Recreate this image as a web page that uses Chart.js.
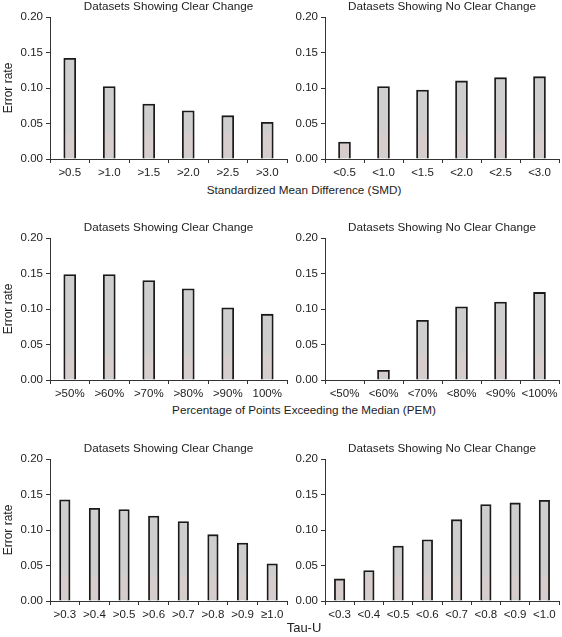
<!DOCTYPE html>
<html>
<head>
<meta charset="utf-8">
<script src="https://cdn.jsdelivr.net/npm/chart.js@4/dist/chart.umd.min.js"></script>
<style>
  html, body { margin: 0; padding: 0; background: #fff; }
  body { width: 562px; height: 637px; position: relative; overflow: hidden;
         font-family: "Liberation Sans", Arial, sans-serif; color: #222; }
  .panel { position: absolute; }
  .xtitle { position: absolute; left: 46px; width: 516px; text-align: center;
            font-size: 11.7px; line-height: 14px; }
</style>
</head>
<body>

<div class="panel" style="left:0;top:0;width:290px;height:180px"><canvas id="c1"></canvas></div>
<div class="panel" style="left:275px;top:0;width:287px;height:180px"><canvas id="c2"></canvas></div>
<div class="xtitle" style="top:183px">Standardized Mean Difference (SMD)</div>

<div class="panel" style="left:0;top:221px;width:290px;height:180px"><canvas id="c3"></canvas></div>
<div class="panel" style="left:275px;top:221px;width:287px;height:180px"><canvas id="c4"></canvas></div>
<div class="xtitle" style="top:403px">Percentage of Points Exceeding the Median (PEM)</div>

<div class="panel" style="left:0;top:442px;width:290px;height:180px"><canvas id="c5"></canvas></div>
<div class="panel" style="left:275px;top:442px;width:287px;height:180px"><canvas id="c6"></canvas></div>
<div class="xtitle" style="top:621px;font-size:13px">Tau-U</div>

<script>
// ---- data ----
const smdClearLabels   = ['>0.5', '>1.0', '>1.5', '>2.0', '>2.5', '>3.0'];
const smdClearValues   = [0.142, 0.102, 0.0775, 0.068, 0.061, 0.0516];
const smdNoLabels      = ['<0.5', '<1.0', '<1.5', '<2.0', '<2.5', '<3.0'];
const smdNoValues      = [0.024, 0.102, 0.097, 0.110, 0.1146, 0.116];

const pemClearLabels   = ['>50%', '>60%', '>70%', '>80%', '>90%', '100%'];
const pemClearValues   = [0.1485, 0.1485, 0.140, 0.1286, 0.1017, 0.0927];
const pemNoLabels      = ['<50%', '<60%', '<70%', '<80%', '<90%', '<100%'];
const pemNoValues      = [0, 0.0137, 0.0842, 0.103, 0.1097, 0.1234];

const tauClearLabels   = ['>0.3', '>0.4', '>0.5', '>0.6', '>0.7', '>0.8', '>0.9', '\u22651.0'];
const tauClearValues   = [0.1425, 0.1307, 0.1288, 0.1198, 0.1118, 0.0934, 0.0816, 0.0524];
const tauNoLabels      = ['<0.3', '<0.4', '<0.5', '<0.6', '<0.7', '<0.8', '<0.9', '<1.0'];
const tauNoValues      = [0.0311, 0.0429, 0.0774, 0.0863, 0.1146, 0.1358, 0.1382, 0.142];

const yTicks = [0, 0.05, 0.10, 0.15, 0.20];

const FONT = '"Liberation Sans", Arial, sans-serif';
const AXIS = '#333';

// gray bar with the faint pinkish band near the base
function barFill(ctx) {
    const chart = ctx.chart;
    const y = chart.scales.y;
    if (!chart.chartArea || !y) return '#cecece';
    const y0 = y.getPixelForValue(0), y1 = y.getPixelForValue(0.05);
    if (!isFinite(y0) || !isFinite(y1) || y0 === y1) return '#cecece';
    const g = chart.ctx.createLinearGradient(0, y0, 0, y1);
    g.addColorStop(0.0, '#d0cece');
    g.addColorStop(0.2, '#d8cdcd');
    g.addColorStop(0.6, '#d8cdcd');
    g.addColorStop(0.85, '#cecece');
    g.addColorStop(1.0, '#cecece');
    return g;
}

function makePanel(id, title, labels, values, showYTitle, thickness) {
    new Chart(document.getElementById(id), {
        type: 'bar',
        data: {
            labels: labels,
            datasets: [{
                data: values,
                backgroundColor: barFill,
                borderColor: '#1a1a1a',
                borderWidth: 1.8,
                borderSkipped: 'bottom',
                barThickness: thickness,
            }]
        },
        options: {
            responsive: true,
            maintainAspectRatio: false,
            animation: false,
            layout: { padding: { left: 0, right: 3, top: 0, bottom: 0 } },
            plugins: {
                legend: { display: false },
                tooltip: { enabled: false },
                title: {
                    display: true,
                    fullSize: false,
                    align: 'center',
                    text: title,
                    color: '#222',
                    font: { family: FONT, size: 11.7, weight: 'normal' },
                    padding: { top: 0, bottom: 3 },
                }
            },
            scales: {
                x: {
                    grid: { display: true, drawOnChartArea: false, drawTicks: true, tickLength: 4, color: AXIS, lineWidth: 1, offset: true },
                    border: { display: true, color: AXIS, width: 1 },
                    ticks: { color: '#222', font: { family: FONT, size: 11.5 }, padding: 3, maxRotation: 0, autoSkip: false },
                    afterFit: s => { s.height = 21; },
                },
                y: {
                    min: 0,
                    max: 0.2,
                    afterBuildTicks: s => { s.ticks = yTicks.map(v => ({ value: v })); },
                    grid: { display: true, drawOnChartArea: false, drawTicks: true, tickLength: 4, color: AXIS, lineWidth: 1 },
                    border: { display: true, color: AXIS, width: 1 },
                    ticks: { color: '#222', font: { family: FONT, size: 11.5 }, padding: 3, callback: v => v.toFixed(2) },
                    title: {
                        display: showYTitle,
                        text: 'Error rate',
                        color: '#222',
                        font: { family: FONT, size: 12 },
                        padding: { top: 1, bottom: 0 },
                    },
                    afterFit: s => { s.width = 50; },
                }
            }
        }
    });
}

makePanel('c1', 'Datasets Showing Clear Change',    smdClearLabels, smdClearValues, true, 12);
makePanel('c2', 'Datasets Showing No Clear Change', smdNoLabels,    smdNoValues,    false, 12);
makePanel('c3', 'Datasets Showing Clear Change',    pemClearLabels, pemClearValues, true, 12);
makePanel('c4', 'Datasets Showing No Clear Change', pemNoLabels,    pemNoValues,    false, 12);
makePanel('c5', 'Datasets Showing Clear Change',    tauClearLabels, tauClearValues, true, 10.5);
makePanel('c6', 'Datasets Showing No Clear Change', tauNoLabels,    tauNoValues,    false, 10.5);
</script>
</body>
</html>
